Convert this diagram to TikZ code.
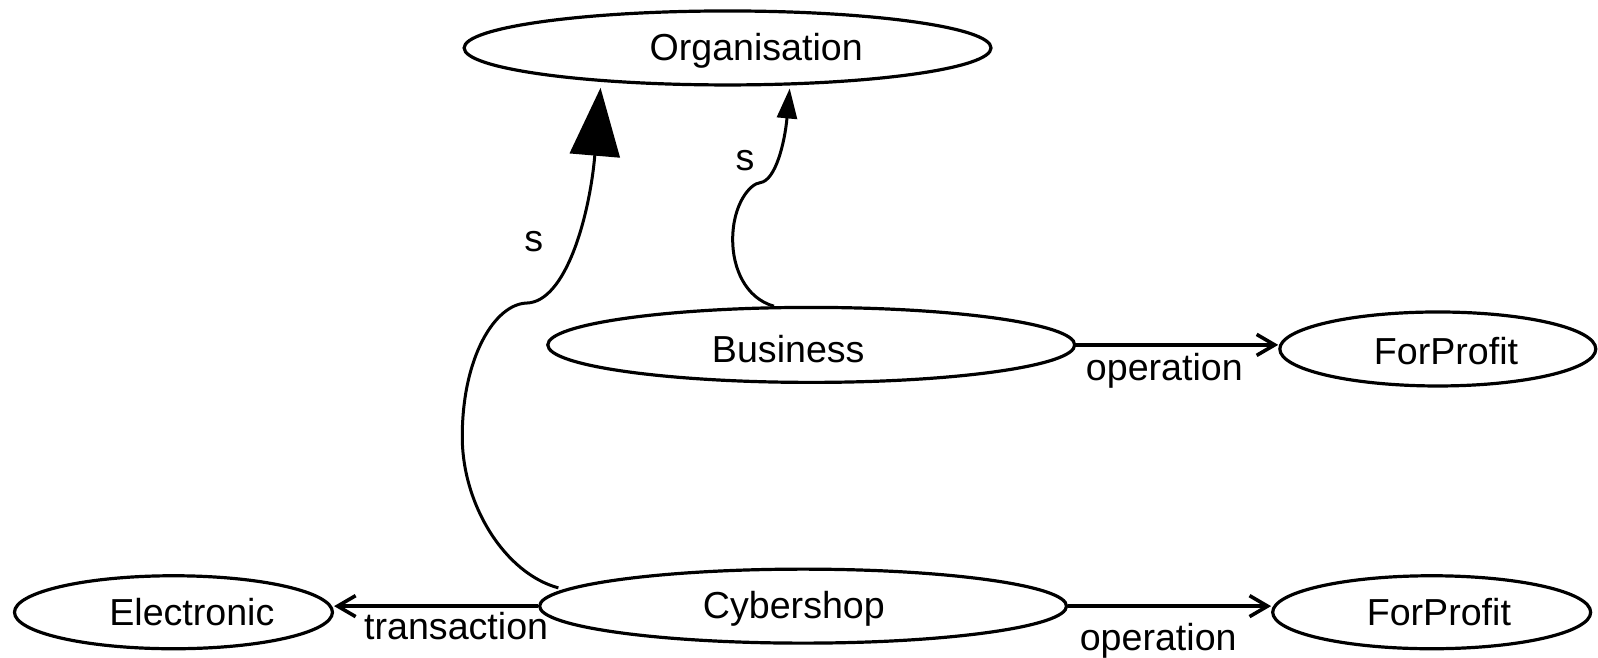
\documentclass[tikz,border=0pt]{standalone}
\usepackage{fontspec}
\setmainfont{Liberation Sans}
\usetikzlibrary{shapes.geometric,arrows.meta,calc}
\begin{document}
\begin{tikzpicture}[x=0.51028pt,y=-0.51028pt,
  concept/.style={draw, ellipse, line width=1.6pt, inner sep=0pt},
  rel/.style={line width=2pt, -{Straight Barb[length=9pt,width=10.5pt,line width=1.8pt]}},
  sub/.style={line width=1.5pt},
  lbl/.style={font=\fontsize{18.8}{20}\selectfont, inner sep=0pt}]
\path[use as bounding box] (0,0) rectangle (1566,643.9);
\node[concept, minimum width=263.5pt, minimum height=37pt,
  label={[lbl, xshift=14.3pt, yshift=-1.5pt]center:Organisation}] (org) at (713,47) {};
\node[concept, minimum width=263.5pt, minimum height=37.5pt,
  label={[lbl, xshift=-11.5pt, yshift=-2pt]center:Business}] (bus) at (795,338) {};
\node[concept, minimum width=158pt, minimum height=37pt,
  label={[lbl, xshift=4.1pt, yshift=-1pt]center:ForProfit}] (fp1) at (1409,342) {};
\node[concept, minimum width=159pt, minimum height=36.5pt,
  label={[lbl, xshift=9.2pt]center:Electronic}] (elec) at (170,600) {};
\node[concept, minimum width=263.5pt, minimum height=37pt,
  label={[lbl, xshift=-4.6pt, yshift=-1.5pt]center:Cybershop}] (cyber) at (787,594) {};
\node[concept, minimum width=159pt, minimum height=36.5pt,
  label={[lbl, xshift=3.6pt]center:ForProfit}] (fp2) at (1403,600) {};

\draw[rel] (bus.east) -- (bus.east -| fp1.west);
\node[lbl] (l1) at (1141,363) {operation};
\draw[rel] (cyber.east) -- (cyber.east -| fp2.west);
\node[lbl] (l2) at (1135,628) {operation};
\draw[rel] (cyber.west) -- (cyber.west -| elec.east);
\node[lbl] (l3) at (447,614) {transaction};

\draw[sub, shorten <=3pt, shorten >=3pt, -{Triangle[length=34pt,width=25pt]}] (cyber.176)
  .. controls (495,562) and (453,495) .. (453,428)
  .. controls (453,350) and (485,298) .. (516,297)
  .. controls (555,296) and (578,210) .. (org.195);
\node[lbl] (s1) at (523,237) {s};

\draw[sub, shorten >=1.5pt, -{Triangle[length=15pt,width=10pt]}] (bus.134)
  .. controls (730,292) and (718,262) .. (718,235)
  .. controls (718,200) and (735,180) .. (745,179)
  .. controls (760,177) and (769,140) .. (org.329);
\node[lbl] (s2) at (730,157) {s};
\end{tikzpicture}
\end{document}
